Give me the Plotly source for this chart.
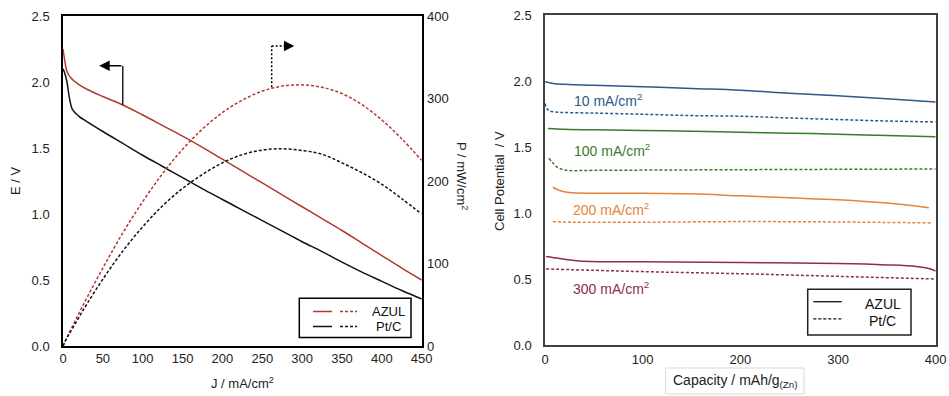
import plotly.graph_objects as go

W, H = 949, 396
FONT = "Liberation Sans, Arial, sans-serif"

# ---------------- Left panel data ----------------
J_azul = [0, 2, 5, 10, 20, 30, 50, 75, 100, 125, 150, 175, 200, 225, 250, 275, 300, 325, 350, 375, 400, 425, 450]
E_azul = [2.25, 2.17, 2.08, 2.03, 1.98, 1.945, 1.89, 1.826, 1.75, 1.67, 1.59, 1.505, 1.415, 1.325, 1.235,
          1.145, 1.055, 0.965, 0.875, 0.78, 0.685, 0.59, 0.5]
P_azul = [0, 4.3, 10.4, 20.3, 39.6, 58.4, 94.5, 137, 175, 209, 238.5, 263, 283, 298, 309, 315, 316.5,
          313.6, 306, 292.5, 274, 251, 225]

J_ptc = [0, 2, 5, 8, 12, 20, 30, 50, 75, 100, 125, 150, 175, 200, 225, 250, 275, 300, 325, 350, 375, 400, 425, 450]
E_ptc = [2.10, 2.07, 2.0, 1.88, 1.79, 1.74, 1.70, 1.625, 1.535, 1.445, 1.36, 1.275, 1.19, 1.11, 1.03, 0.95,
         0.87, 0.79, 0.715, 0.635, 0.56, 0.49, 0.42, 0.356]
P_ptc = [0, 4.1, 10, 15, 21.5, 34.8, 51, 81, 115, 144.5, 170, 191, 208, 222, 232, 237.5, 239, 237, 232.4,
         222, 210, 196, 178.5, 160]

# ---------------- Right panel data ----------------
cap_10_azul = [0, 10, 20, 50, 100, 150, 200, 250, 300, 350, 400]
v_10_azul = [1.995, 1.98, 1.975, 1.967, 1.957, 1.943, 1.93, 1.908, 1.888, 1.866, 1.84]
cap_10_pt = [0, 2, 5, 10, 50, 100, 150, 200, 250, 300, 350, 400]
v_10_pt = [1.83, 1.79, 1.772, 1.765, 1.757, 1.748, 1.738, 1.733, 1.72, 1.708, 1.697, 1.69]

cap_100_azul = [3, 20, 50, 100, 150, 200, 250, 300, 350, 400]
v_100_azul = [1.641, 1.635, 1.63, 1.625, 1.62, 1.612, 1.605, 1.597, 1.587, 1.578]
cap_100_pt = [4, 8, 12, 18, 25, 50, 100, 200, 300, 400]
v_100_pt = [1.415, 1.38, 1.35, 1.33, 1.322, 1.323, 1.325, 1.328, 1.331, 1.333]

cap_200_azul = [8, 15, 25, 50, 100, 150, 200, 250, 300, 350, 393]
v_200_azul = [1.195, 1.17, 1.155, 1.15, 1.15, 1.145, 1.13, 1.115, 1.10, 1.075, 1.04]
cap_200_pt = [8, 30, 100, 200, 300, 395]
v_200_pt = [0.935, 0.93, 0.93, 0.935, 0.932, 0.925]

cap_300_azul = [1, 15, 35, 100, 200, 300, 350, 380, 393, 400]
v_300_azul = [0.67, 0.655, 0.637, 0.63, 0.625, 0.617, 0.607, 0.595, 0.58, 0.56]
cap_300_pt = [1, 50, 100, 200, 300, 400]
v_300_pt = [0.576, 0.566, 0.556, 0.54, 0.52, 0.50]

rate_labels = ["10 mA/cm<sup>2</sup>", "100 mA/cm<sup>2</sup>", "200 mA/cm<sup>2</sup>", "300 mA/cm<sup>2</sup>"]
legend_names = ["AZUL", "Pt/C"]

left_y_ticks = [0.0, 0.5, 1.0, 1.5, 2.0, 2.5]
left_y2_ticks = [0, 100, 200, 300, 400]
left_x_ticks = [0, 50, 100, 150, 200, 250, 300, 350, 400, 450]
right_x_ticks = [0, 100, 200, 300, 400]
right_y_ticks = [0.0, 0.5, 1.0, 1.5, 2.0, 2.5]

# ---------------- styles ----------------
RED = "#B0392E"
BLACK = "#111111"
BLUE = "#2D5986"
GREEN = "#387C2B"
ORANGE = "#E8823A"
PURPLE = "#8E2B57"
DOT = "3px,2px"


def px(x):
    return x / W


def py(y):
    return 1 - y / H


fig = go.Figure()

# Left panel
fig.add_trace(go.Scatter(x=J_azul, y=E_azul, mode="lines", line=dict(color=RED, width=1.5),
                         xaxis="x", yaxis="y", showlegend=False, line_shape="spline"))
fig.add_trace(go.Scatter(x=J_ptc, y=E_ptc, mode="lines", line=dict(color=BLACK, width=1.5),
                         xaxis="x", yaxis="y", showlegend=False, line_shape="spline"))
fig.add_trace(go.Scatter(x=J_azul, y=P_azul, mode="lines", line=dict(color=RED, width=1.5, dash=DOT),
                         xaxis="x", yaxis="y2", showlegend=False, line_shape="spline"))
fig.add_trace(go.Scatter(x=J_ptc, y=P_ptc, mode="lines", line=dict(color=BLACK, width=1.5, dash=DOT),
                         xaxis="x", yaxis="y2", showlegend=False, line_shape="spline"))

# Right panel
series = [
    (cap_10_azul, v_10_azul, cap_10_pt, v_10_pt, BLUE),
    (cap_100_azul, v_100_azul, cap_100_pt, v_100_pt, GREEN),
    (cap_200_azul, v_200_azul, cap_200_pt, v_200_pt, ORANGE),
    (cap_300_azul, v_300_azul, cap_300_pt, v_300_pt, PURPLE),
]
for ca, va, cp, vp, col in series:
    fig.add_trace(go.Scatter(x=ca, y=va, mode="lines", line=dict(color=col, width=1.5),
                             xaxis="x2", yaxis="y3", showlegend=False, line_shape="spline"))
    fig.add_trace(go.Scatter(x=cp, y=vp, mode="lines", line=dict(color=col, width=1.5, dash=DOT),
                             xaxis="x2", yaxis="y3", showlegend=False, line_shape="spline"))

tickfont = dict(family=FONT, size=13, color="#222")
LD = [px(63), px(421.7)]
LY = [py(346), py(16)]
RD = [px(545), px(935.7)]
RY = [py(345), py(15)]

fig.update_layout(
    width=W, height=H, margin=dict(l=0, r=0, t=0, b=0),
    paper_bgcolor="white", plot_bgcolor="white", showlegend=False,
    font=dict(family=FONT, size=13, color="#222"),
    xaxis=dict(domain=LD, range=[0, 450], tickvals=left_x_ticks, showgrid=False, zeroline=False,
               showline=True, linecolor="black", linewidth=1.5, mirror=True, ticks="",
               tickfont=tickfont, anchor="y", automargin=False, ticklabelstandoff=0),
    yaxis=dict(domain=LY, range=[0, 2.5], tickvals=left_y_ticks, tickformat=".1f", showgrid=False,
               zeroline=False, showline=True, linecolor="black", linewidth=1.5, mirror=True, ticks="",
               tickfont=tickfont, anchor="x", automargin=False, ticklabelstandoff=9),
    yaxis2=dict(range=[0, 400], tickvals=left_y2_ticks, overlaying="y", side="right", anchor="x",
                showgrid=False, zeroline=False, showline=True, linecolor="black", linewidth=1.5,
                ticks="", tickfont=tickfont, automargin=False, ticklabelstandoff=1),
    xaxis2=dict(domain=RD, range=[0, 400], tickvals=right_x_ticks, showgrid=False, zeroline=False,
                showline=True, linecolor="#404040", linewidth=1.5, mirror=True, ticks="",
                tickfont=tickfont, anchor="y3", automargin=False, ticklabelstandoff=2),
    yaxis3=dict(domain=RY, range=[0, 2.5], tickvals=right_y_ticks, tickformat=".1f", showgrid=False,
                zeroline=False, showline=True, linecolor="#404040", linewidth=1.5, mirror=True,
                ticks="", tickfont=tickfont, anchor="x2", automargin=False, ticklabelstandoff=9),
)

ann = []
shapes = []


def text_ann(text, x, y, size=13, color="#222", angle=0, xanchor="center"):
    return dict(text=text, x=px(x), y=py(y), xref="paper", yref="paper", xanchor=xanchor,
                yanchor="middle", textangle=angle, showarrow=False, font=dict(size=size, color=color))


# axis titles
ann.append(text_ann("E / V", 15, 181, angle=-90))
ann.append(text_ann("P / mW/cm<sup>2</sup>", 462, 176, angle=90))
ann.append(text_ann("J / mA/cm<sup>2</sup>", 242, 383))
ann.append(text_ann("Cell Potential  / V", 499, 181, angle=-90))
ann.append(text_ann("Capacity / mAh/g<sub>(Zn)</sub>", 735, 381, size=14))
shapes.append(dict(type="rect", xref="paper", yref="paper", x0=px(665.7), x1=px(804), y0=py(394),
                   y1=py(368), line=dict(color="#d9d9d9", width=1)))

# rate labels (right panel)
label_pos = [(572, 100), (572, 150), (571, 209), (571, 288)]
for txt, (lx, ly), (_, _, _, _, col) in zip(rate_labels, label_pos, series):
    ann.append(text_ann(txt, lx, ly, size=14, color=col, xanchor="left"))

# arrows (left panel)
shapes.append(dict(type="line", xref="x", yref="y", x0=75, x1=75, y0=1.826, y1=2.123,
                   line=dict(color="black", width=1.3)))
ann.append(dict(x=45.5, y=2.123, ax=75, ay=2.123, xref="x", yref="y", axref="x", ayref="y", text="",
                showarrow=True, arrowhead=2, arrowsize=1.6, arrowwidth=1.3, arrowcolor="black"))
shapes.append(dict(type="line", xref="x", yref="y2", x0=261.8, x1=261.8, y0=313.6, y1=363.6,
                   line=dict(color="black", width=1.5, dash="2px,2px")))
shapes.append(dict(type="line", xref="x", yref="y2", x0=261.8, x1=284, y0=363.6, y1=363.6,
                   line=dict(color="black", width=1.5, dash="2px,2px")))
ann.append(dict(x=290.2, y=363.6, ax=282, ay=363.6, xref="x", yref="y2", axref="x", ayref="y2", text="",
                showarrow=True, arrowhead=2, arrowsize=1.6, arrowwidth=1.3, arrowcolor="black"))

# left legend
shapes.append(dict(type="rect", xref="paper", yref="paper", x0=px(299.3), x1=px(411), y0=py(337.5),
                   y1=py(298.3), line=dict(color="black", width=1.5), fillcolor="white"))
for i, (name, col) in enumerate(zip(legend_names, [RED, BLACK])):
    yy = [311.5, 326.5][i]
    shapes.append(dict(type="line", xref="paper", yref="paper", x0=px(313), x1=px(332), y0=py(yy),
                       y1=py(yy), line=dict(color=col, width=1.5)))
    shapes.append(dict(type="line", xref="paper", yref="paper", x0=px(340), x1=px(357), y0=py(yy),
                       y1=py(yy), line=dict(color=col, width=1.5, dash=DOT)))
    ann.append(text_ann(name, 388, yy, size=13, color="#111"))

# right legend
shapes.append(dict(type="rect", xref="paper", yref="paper", x0=px(807.7), x1=px(911), y0=py(335),
                   y1=py(289.3), line=dict(color="#222", width=1.5), fillcolor="white"))
for i, name in enumerate(legend_names):
    yy = [301.7, 318.8][i]
    shapes.append(dict(type="line", xref="paper", yref="paper", x0=px(813.3), x1=px(841.7), y0=py(yy),
                       y1=py(yy), line=dict(color=BLACK, width=1.3, dash=None if i == 0 else DOT)))
    ann.append(text_ann(name, 882.5, yy + 2, size=14, color="#111"))

fig.update_layout(annotations=ann, shapes=shapes)
fig.write_html("out.html")
